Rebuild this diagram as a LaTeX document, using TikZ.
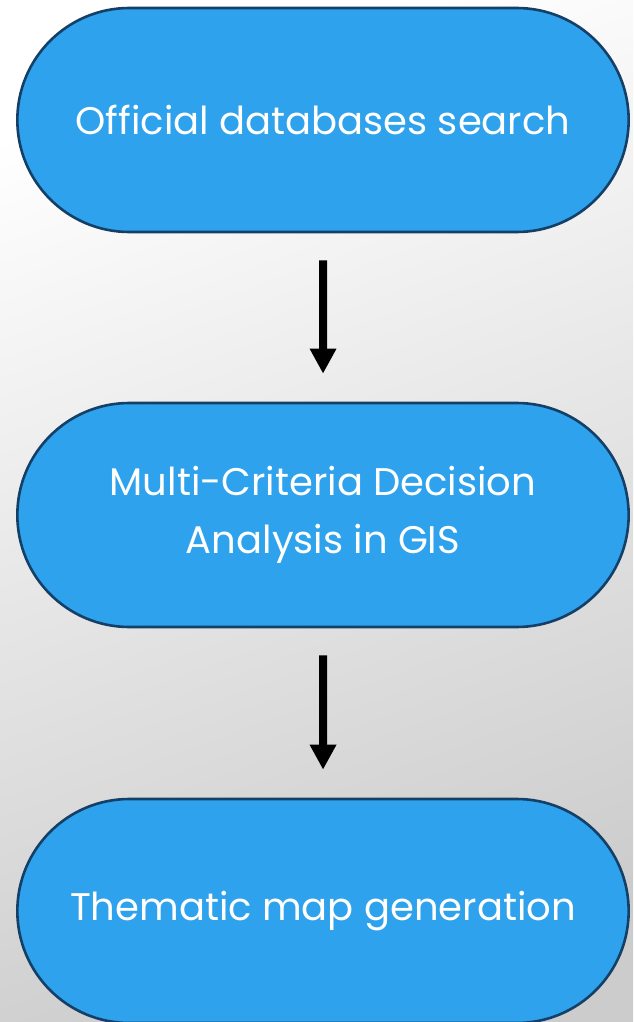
\documentclass[tikz,border=0pt]{standalone}
\usepackage{fontspec}
\setmainfont{Poppins}
\usepackage{xcolor}
\definecolor{box-blue}{RGB}{46,162,236}
\definecolor{edge-blue}{RGB}{20,64,104}
\usetikzlibrary{shapes.misc,arrows.meta,positioning}

\begin{document}
\begin{tikzpicture}[x=1pt,y=-1pt,
	stage/.style={rounded rectangle,draw=edge-blue,line width=2.6pt,
		fill=box-blue,text=white,minimum width=618pt,minimum height=224pt,
		align=center,font=\fontsize{38.5}{58}\selectfont},
	flow/.style={-{Triangle[width=25pt,length=25pt]},line width=8pt,
		shorten <=27pt,shorten >=28pt}]
	% background
	\shade[top color=white,bottom color=black!20,shading angle=20]
		(0,0) rectangle (633,1022);
	\useasboundingbox (0,0) rectangle (633,1022);
	
	\node[stage] (search) at (323,120) {Official databases search};
	\node[stage] (mcda) at (323,515) {Multi-Criteria Decision\\Analysis in GIS};
	\node[stage] (map) at (323,911) {Thematic map generation};
	
	\draw[flow] (search) -- (mcda);
	\draw[flow] (mcda) -- (map);
	
\end{tikzpicture}
\end{document}
